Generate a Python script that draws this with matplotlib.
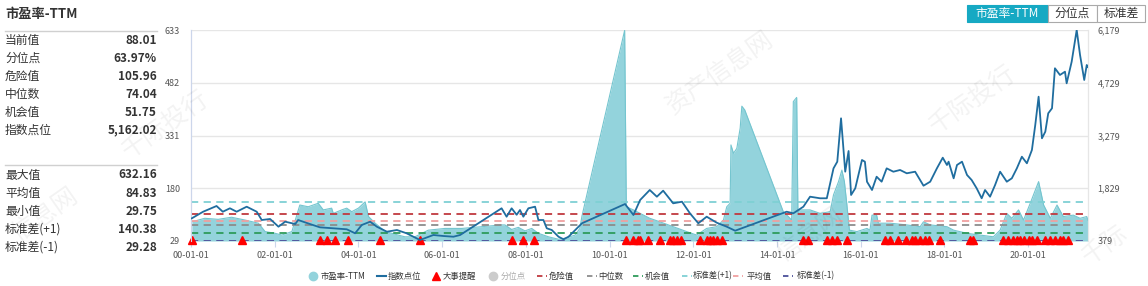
import matplotlib
matplotlib.use('Agg')
import matplotlib.pyplot as plt
import matplotlib.transforms as mtransforms
from matplotlib.lines import Line2D
from matplotlib.patches import Rectangle
from matplotlib.ticker import FuncFormatter

plt.rcParams['font.family'] = ['Noto Sans CJK SC', 'DejaVu Sans']

# x values are years since 2000-01-01
pe_t = [0.02, 0.33, 0.65, 0.97, 1.29, 1.61, 1.77, 2.01, 2.17, 2.41, 2.60, 2.80, 3.04, 3.16,
        3.36, 3.40, 3.60, 3.72, 3.84, 4.00, 4.16, 4.24, 4.40, 4.64, 4.95, 5.11, 5.35, 5.67,
        6.07, 6.47, 7.42, 7.50, 7.66, 7.82, 7.98, 8.14, 8.30, 8.54, 8.78, 8.94, 9.18, 9.29,
        9.34, 10.36, 10.40, 10.57, 10.73, 10.96, 11.20, 11.52, 11.84, 12.08, 12.32, 12.56,
        12.72, 12.80, 12.88, 12.90, 12.96, 13.04, 13.12, 13.16, 13.23, 14.15, 14.27, 14.35,
        14.39, 14.47, 14.50, 14.55, 14.79, 15.03, 15.27, 15.35, 15.47, 15.55, 15.61, 15.67,
        15.73, 15.91, 16.15, 16.22, 16.27, 16.38, 16.42, 16.70, 17.10, 17.42, 17.50, 17.66,
        18.06, 18.22, 18.54, 18.85, 19.17, 19.33, 19.49, 19.61, 19.77, 19.89, 20.05, 20.25,
        20.37, 20.53, 20.69, 20.84, 21.08, 21.24, 21.40, 21.43]
pe_val = [84, 94, 91, 97, 89, 80, 56, 51, 46, 56, 132, 127, 137, 118,
          123, 108, 118, 123, 113, 123, 141, 99, 80, 56, 46, 41, 41, 60,
          65, 65, 75, 75, 62, 68, 58, 65, 51, 41, 34, 37, 46, 65,
          100, 632, 127, 118, 108, 94, 84, 70, 56, 46, 65, 70,
          89, 127, 137, 304, 280, 294, 352, 415, 404, 113, 99, 89,
          428, 440, 109, 118, 118, 108, 113, 161, 199, 232, 199, 132,
          60, 56, 65, 60, 103, 103, 80, 80, 75, 70, 84, 75,
          70, 60, 51, 46, 41, 60, 108, 94, 118, 89, 137, 199,
          132, 94, 132, 99, 103, 94, 99, 88]

idx_t = [0.02, 0.29, 0.61, 0.76, 0.93, 1.09, 1.33, 1.57, 1.69, 1.89, 2.09, 2.25, 2.49, 2.56,
         2.84, 3.08, 3.40, 3.72, 3.92, 4.08, 4.28, 4.44, 4.68, 4.92, 5.15, 5.47, 5.79, 6.03,
         6.27, 6.43, 7.42, 7.54, 7.66, 7.78, 7.86, 7.94, 8.06, 8.22, 8.30, 8.42, 8.50, 8.62,
         8.78, 8.90, 9.02, 9.18, 9.34, 10.37, 10.57, 10.73, 10.96, 11.13, 11.28, 11.52, 11.73,
         11.92, 12.12, 12.32, 12.56, 12.80, 13.00, 14.23, 14.39, 14.63, 14.79, 15.03, 15.19,
         15.35, 15.44, 15.53, 15.63, 15.71, 15.77, 15.87, 16.03, 16.10, 16.15, 16.27, 16.38,
         16.50, 16.62, 16.78, 16.94, 17.10, 17.30, 17.50, 17.66, 17.82, 17.96, 18.06, 18.10,
         18.22, 18.30, 18.42, 18.54, 18.65, 18.77, 18.89, 18.97, 19.09, 19.21, 19.33, 19.49,
         19.61, 19.73, 19.85, 19.97, 20.09, 20.17, 20.25, 20.33, 20.41, 20.48, 20.57, 20.64,
         20.76, 20.88, 20.92, 21.04, 21.16, 21.24, 21.34, 21.40, 21.43]
idx_val = [1003, 1184, 1341, 1184, 1278, 1184, 1322, 1184, 956, 984, 772, 910, 846, 956,
           846, 755, 728, 701, 591, 819, 910, 772, 635, 681, 591, 406, 544, 516,
           497, 544, 1278, 1047, 1278, 1100, 1231, 1047, 1278, 1322, 956, 956, 728, 681,
           497, 426, 497, 681, 866, 1396, 1094, 1506, 1781, 1597, 1762, 1415, 1459,
           1140, 866, 1047, 882, 772, 662, 1184, 1140, 1322, 1597, 1553, 1553,
           2376, 2559, 3752, 2284, 2853, 1644, 1828, 2606, 2559, 2009, 1781, 2146,
           2009, 2376, 2284, 2331, 2240, 2284, 1899, 2009, 2376, 2669, 2468, 2559,
           2102, 2468, 2559, 2193, 2056, 1828, 1553, 1781, 1597, 1918, 2284, 2009,
           2102, 2376, 2696, 2515, 2881, 3568, 4346, 3202, 3384, 3889, 4027, 5127,
           4943, 5033, 4714, 5308, 6179, 5492, 4805, 5217, 5162]

event_t = [0.02, 1.21, 3.08, 3.24, 3.44, 3.76, 4.52, 5.47, 7.66, 7.93, 8.20, 10.39, 10.57,
           10.69, 10.73, 10.93, 11.21, 11.45, 11.52, 11.61, 11.70, 12.16, 12.32, 12.40, 12.48,
           12.56, 12.68, 14.63, 14.75, 15.19, 15.31, 15.43, 15.67, 16.58, 16.70, 16.90, 17.08,
           17.22, 17.30, 17.42, 17.54, 17.62, 17.90, 18.61, 18.69, 19.41, 19.52, 19.65, 19.73,
           19.81, 19.89, 20.01, 20.09, 20.21, 20.41, 20.53, 20.65, 20.77, 20.84, 20.96]

x_ticks = [0, 2, 4, 6, 8, 10, 12, 14, 16, 18, 20]
x_labels = ['00-01-01', '02-01-01', '04-01-01', '06-01-01', '08-01-01', '10-01-01',
            '12-01-01', '14-01-01', '16-01-01', '18-01-01', '20-01-01']
pe_ticks = [29, 180, 331, 482, 633]
idx_ticks = [379, 1829, 3279, 4729, 6179]

level_names = ['标准差(+1)', '危险值', '平均值', '中位数', '机会值', '标准差(-1)']
level_vals = [140.38, 105.96, 84.83, 74.04, 51.75, 29.28]
level_colors = ['#7fd0d4', '#c0393f', '#f0a0a0', '#8c8c8c', '#2e9b5b', '#4b4f9a']

stat_names = ['当前值', '分位点', '危险值', '中位数', '机会值', '指数点位']
stat_vals = ['88.01', '63.97%', '105.96', '74.04', '51.75', '5,162.02']
range_names = ['最大值', '平均值', '最小值', '标准差(+1)', '标准差(-1)']
range_vals = ['632.16', '84.83', '29.75', '140.38', '29.28']

W, H = 1148, 286
fig = plt.figure(figsize=(W / 100, H / 100), dpi=100)
ax = fig.add_axes([191 / W, 1 - 241 / H, (1088 - 191) / W, (241 - 30) / H])
ax2 = ax.twinx()

pe_color = '#93d3dc'
idx_color = '#1f6d9f'
ax.fill_between(pe_t, 29, pe_val, color=pe_color, lw=0, zorder=2)
ax.plot(pe_t, pe_val, color='#74c5cf', lw=0.8, zorder=2)
for v, c in zip(level_vals, level_colors):
    ax.axhline(v, color=c, lw=1.3, ls=(0, (4, 3)), zorder=3)

shift = mtransforms.offset_copy(ax.transData, fig=fig, x=0, y=1.5, units='dots')
ax.plot(event_t, [29] * len(event_t), ls='none', marker='^', ms=5.5, color='red',
        transform=shift, clip_on=False, zorder=6)

ax2.plot(idx_t, idx_val, color=idx_color, lw=1.3, zorder=4)

ax.set_xlim(0, 21.43)
ax.set_ylim(29, 633)
ax2.set_ylim(379, 6179)
ax.set_xticks(x_ticks)
ax.set_xticklabels(x_labels)
ax.set_yticks(pe_ticks)
ax2.set_yticks(idx_ticks)
ax2.yaxis.set_major_formatter(FuncFormatter(lambda v, p: f'{v:,.0f}'))
ax.grid(axis='y', color='#e6e6e6', lw=1)
ax.set_axisbelow(True)
ax.tick_params(axis='x', colors='#ccd6eb', labelcolor='#555555', labelsize=6.5, length=4, pad=3)
ax.tick_params(axis='y', length=0, labelcolor='#555555', labelsize=6.5, pad=8)
ax2.tick_params(axis='y', length=0, labelcolor='#555555', labelsize=6.5, pad=7)
for a in (ax, ax2):
    a.spines['top'].set_visible(False)
    a.spines['bottom'].set_visible(False)
    a.spines['left'].set_color('#ccd6eb')
    a.spines['right'].set_color('#e6e6e6')
ax.patch.set_visible(False)

# left panel
fig.text(5 / W, 1 - 14 / H, '市盈率-TTM', fontsize=9.5, fontweight='bold', color='#333333', va='center')
for yy in (30.7, 165):
    fig.add_artist(Line2D([5 / W, 157 / W], [1 - yy / H] * 2, color='#d0d0d0', lw=1))
for i, (n, v) in enumerate(zip(stat_names, stat_vals)):
    y = 1 - (40.7 + i * 17.9) / H
    fig.text(5 / W, y, n, fontsize=8.5, color='#333333', va='center')
    fig.text(157 / W, y, v, fontsize=8.5, fontweight='bold', color='#333333', va='center', ha='right')
for i, (n, v) in enumerate(zip(range_names, range_vals)):
    y = 1 - (175 + i * 18.1) / H
    fig.text(5 / W, y, n, fontsize=8.5, color='#333333', va='center')
    fig.text(157 / W, y, v, fontsize=8.5, fontweight='bold', color='#333333', va='center', ha='right')

# buttons
btns = [('市盈率-TTM', 967, 1048), ('分位点', 1048, 1097), ('标准差', 1097, 1145)]
for i, (lab, x0, x1) in enumerate(btns):
    fc = '#16a9c3' if i == 0 else 'white'
    fig.add_artist(Rectangle((x0 / W, 1 - 22 / H), (x1 - x0) / W, 17 / H, transform=fig.transFigure,
                             facecolor=fc, edgecolor='#aaaaaa' if i else fc, lw=0.8))
    fig.text((x0 + x1) / 2 / W, 1 - 13.5 / H, lab, fontsize=8.5, ha='center', va='center',
             color='white' if i == 0 else '#333333')

# legend
ly = 1 - 276 / H
leg = [('circle', pe_color, '市盈率-TTM', 313, 321),
       ('line', idx_color, '指数点位', 377, 388),
       ('tri', 'red', '大事提醒', 436, 443),
       ('circle', '#cccccc', '分位点', 493, 501),
       ('dash', level_colors[1], '危险值', 537, 549),
       ('dash', level_colors[3], '中位数', 587, 598),
       ('dash', level_colors[4], '机会值', 633, 645),
       ('dash', level_colors[0], '标准差(+1)', 682, 693),
       ('dash', level_colors[2], '平均值', 733, 747),
       ('dash', level_colors[5], '标准差(-1)', 783, 797)]
for kind, c, lab, mx, tx in leg:
    if kind == 'circle':
        fig.add_artist(Line2D([mx / W], [ly], marker='o', ms=6, color=c, ls='none'))
    elif kind == 'tri':
        fig.add_artist(Line2D([mx / W], [ly], marker='^', ms=6, color=c, ls='none'))
    elif kind == 'line':
        fig.add_artist(Line2D([mx / W, (mx + 9) / W], [ly, ly], color=c, lw=1.5))
    else:
        fig.add_artist(Line2D([mx / W, (mx + 10) / W], [ly, ly], color=c, lw=1.3, ls=(0, (3, 2, 1, 2))))
    fig.text(tx / W, ly, lab, fontsize=6, va='center', color='#aaaaaa' if lab == '分位点' else '#333333')

# watermarks
wm = [('资产信息网', 720, 72), ('千际投行', 972, 100), ('信息网', 45, 215), ('千际投行', 165, 125),
      ('千际', 1105, 245), ('信息网', 810, 235)]
for s, x, y in wm:
    fig.text(x / W, 1 - y / H, s, fontsize=18, rotation=35, ha='center', va='center',
             color='black', alpha=0.05, zorder=10)

fig.savefig('out.png', dpi=100)
